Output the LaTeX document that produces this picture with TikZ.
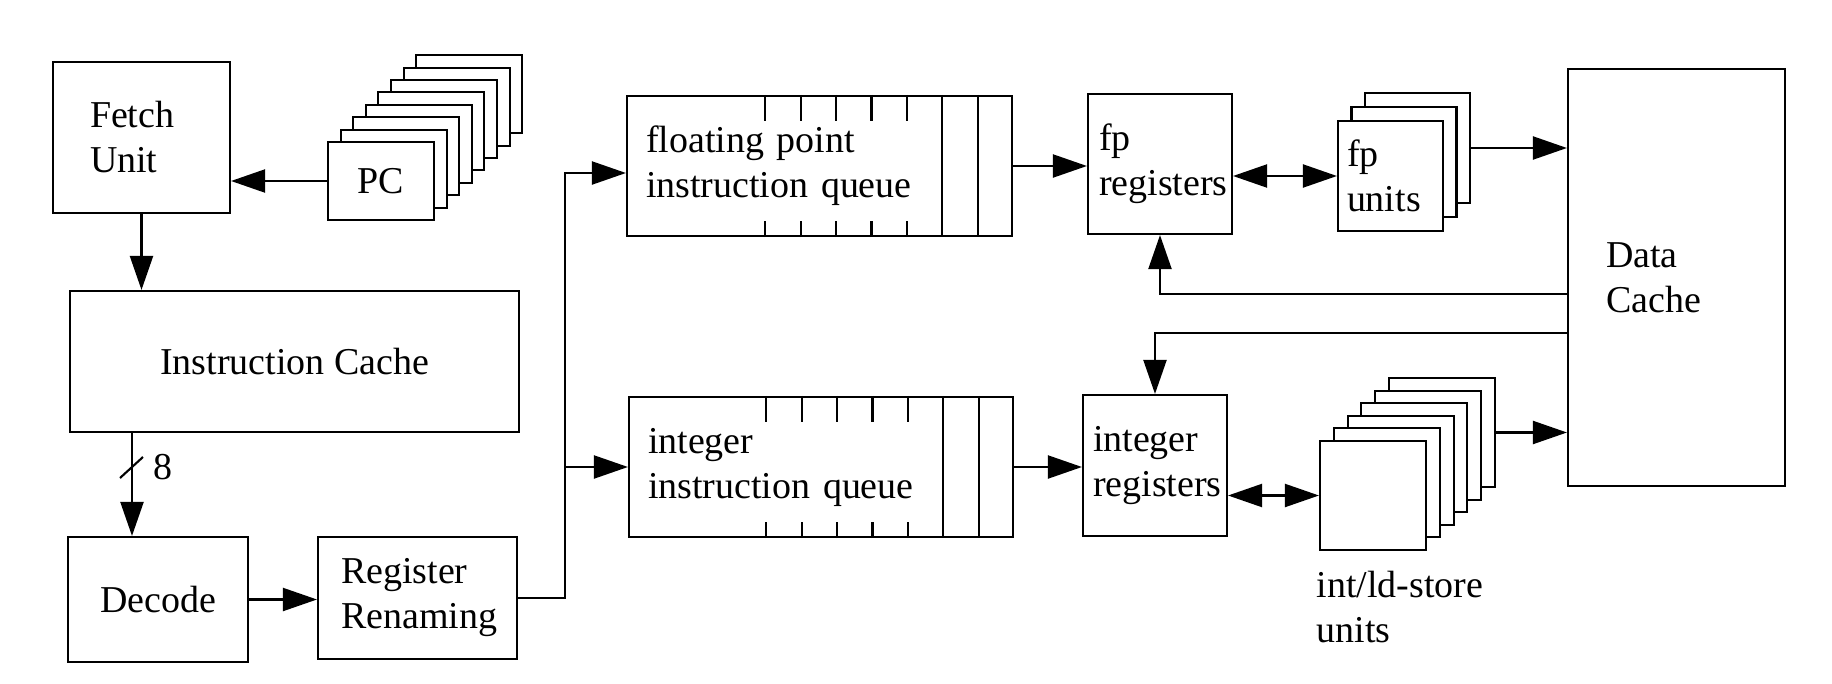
\documentclass[tikz,border=0pt]{standalone}
\usepackage{fontspec}
\setmainfont{Liberation Serif}
\usepackage{tikz}
\usetikzlibrary{arrows.meta,calc}
\tikzset{blk/.style={draw, fill=white, line width=0.6pt, inner sep=0pt, align=center},
  lblk/.style 2 args={blk, align=left, text width=#1, inner xsep=#2},
  arr/.style={-{Triangle[length=3.4mm,width=2.3mm]}, line width=0.6pt},
  darr/.style={{Triangle[length=3.4mm,width=2.3mm]}-{Triangle[length=3.4mm,width=2.3mm]}, line width=0.6pt}}

\begin{document}
\begin{tikzpicture}[font=\fontsize{10.8}{12.8}\selectfont]
  \useasboundingbox (0,0) rectangle (18.32,-6.84);
  % front end
  \node[lblk={1.03cm}{0.37cm}, minimum height=1.51cm] (fetch) at (1.415,-1.375) {Fetch\\Unit};
  \foreach \i in {7,...,1}
    \node[blk, minimum width=1.06cm, minimum height=0.78cm] (pc\i) at (3.81+\i*0.126,-1.81+\i*0.124) {};
  \node[blk, minimum width=1.06cm, minimum height=0.78cm] (pc) at (3.81,-1.81) {PC};
  \node[blk, minimum width=4.49cm, minimum height=1.41cm] (ic) at (2.945,-3.615) {Instruction Cache};
  \node[blk, minimum width=1.80cm, minimum height=1.25cm] (dec) at (1.58,-5.995) {Decode};
  \node[lblk={1.53cm}{0.23cm}, minimum height=1.22cm] (ren) at (4.175,-5.98) {Register\\Renaming};
  % queues
  \node[lblk={3.47cm}{0.19cm}, minimum height=1.40cm] (fpq) at (8.195,-1.66) {floating point\\instruction queue};
  \node[lblk={3.46cm}{0.19cm}, minimum height=1.40cm] (intq) at (8.21,-4.67) {integer\\instruction queue};
  \foreach \q in {fpq,intq} {
    \foreach \i in {1,2}
      \draw[line width=0.6pt] ($(\q.north east)+(-\i*0.354,0)$) -- ($(\q.south east)+(-\i*0.354,0)$);
    \foreach \i in {3,...,7} {
      \draw[line width=0.6pt] ($(\q.north east)+(-\i*0.354,0)$) -- ++(0,-0.26);
      \draw[line width=0.6pt] ($(\q.south east)+(-\i*0.354,0)$) -- ++(0,0.16);
    }
  }
  % registers and units
  \node[lblk={1.22cm}{0.11cm}, minimum height=1.40cm] (fpreg) at (11.60,-1.64) {fp\\registers};
  \node[lblk={1.24cm}{0.10cm}, minimum height=1.41cm] (intreg) at (11.55,-4.655) {integer\\registers};
  \foreach \i in {2,1}
    \node[blk, minimum width=1.05cm, minimum height=1.10cm] (fpu\i) at (13.905+\i*0.135,-1.76+\i*0.14) {};
  \node[lblk={0.87cm}{0.09cm}, minimum height=1.10cm] (fpu) at (13.905,-1.76) {fp\\units};
  \foreach \i in {5,...,1}
    \node[blk, minimum width=1.06cm, minimum height=1.09cm] (intu\i) at (13.73+\i*0.138,-4.955+\i*0.126) {};
  \node[blk, minimum width=1.06cm, minimum height=1.09cm] (intu) at (13.73,-4.955) {};
  \node[anchor=north west, inner sep=0pt, align=left] (intlbl) at (13.16,-5.70) {int/ld-store\\units};
  \node[lblk={1.41cm}{0.38cm}, minimum height=4.17cm] (dcache) at (16.765,-2.775) {Data\\Cache};
  % connections
  \draw[arr] (pc.west) -- (pc.west -| fetch.east);
  \draw[arr] (fetch.south) -- (fetch.south |- ic.north);
  \coordinate (bus) at (1.32,-4.67);
  \draw[arr] (ic.south -| bus) -- (dec.north -| bus);
  \draw[line width=0.6pt] (bus) +(-0.12,-0.11) -- +(0.11,0.10);
  \node[anchor=west, inner sep=0pt] (buswd) at ($(bus)+(0.21,0)$) {8};
  \draw[arr] (dec.east) -- (dec.east -| ren.west);
  \coordinate (split) at ($(ren.east)+(0.47,0)$);
  \draw[arr] (ren.east) -- (split) |- ($(fpq.west)+(0,-0.07)$);
  \draw[arr] (split |- intq.west) -- (intq.west);
  \draw[arr] (fpq.east) -- (fpq.east -| fpreg.west);
  \draw[arr] (intq.east) -- (intq.east -| intreg.west);
  \draw[darr] (fpreg.east |- fpu.west) -- (fpu.west);
  \draw[darr] (intreg.east |- intu.west) -- (intu.west);
  \draw[arr] (fpu2.east) -- (fpu2.east -| dcache.west);
  \draw[arr] (intu5.east) -- (intu5.east -| dcache.west);
  \draw[arr] (dcache.west |- 0,-2.94) -| (fpreg.south);
  \draw[arr] (dcache.west |- 0,-3.33) -| (intreg.north);
\end{tikzpicture}
\end{document}
